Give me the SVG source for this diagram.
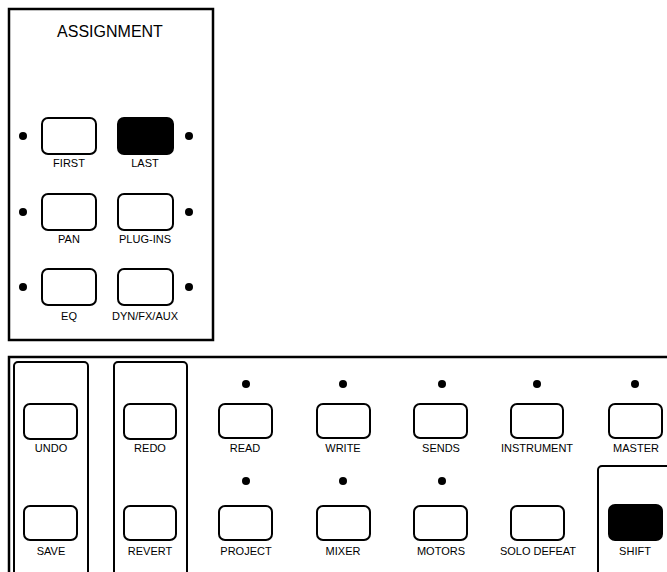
<svg xmlns="http://www.w3.org/2000/svg" width="667" height="572" viewBox="0 0 667 572">
<style>
.panel{fill:#fff;stroke:#000;stroke-width:2.5}
.grp{fill:none;stroke:#000;stroke-width:2}
.btn{fill:#fff;stroke:#000;stroke-width:2}
.btn.on{fill:#000}
.led{fill:#000}
text{font-family:"Liberation Sans",Arial,sans-serif;fill:#000;text-anchor:middle}
.lbl{font-size:11px}
.title{font-size:16px}
</style>
<rect width="667" height="572" fill="#fff"/>
<g id="assignment">
<rect class="panel" x="9" y="9" width="204" height="331"/>
<text class="title" x="110" y="37">ASSIGNMENT</text>
</g>
<g id="first"><circle class="led" cx="23" cy="136" r="4"/><rect class="btn" x="42" y="118" width="54" height="36" rx="6"/><text class="lbl" x="69" y="167">FIRST</text></g>
<g id="last"><circle class="led" cx="189" cy="136" r="4"/><rect class="btn on" x="118" y="118" width="55" height="36" rx="6"/><text class="lbl" x="145" y="167">LAST</text></g>
<g id="pan"><circle class="led" cx="23" cy="212" r="4"/><rect class="btn" x="42" y="194" width="54" height="36" rx="6"/><text class="lbl" x="69" y="243">PAN</text></g>
<g id="plugins"><circle class="led" cx="189" cy="212" r="4"/><rect class="btn" x="118" y="194" width="55" height="36" rx="6"/><text class="lbl" x="145" y="243">PLUG-INS</text></g>
<g id="eq"><circle class="led" cx="23" cy="287" r="4"/><rect class="btn" x="42" y="269" width="54" height="36" rx="6"/><text class="lbl" x="69" y="320">EQ</text></g>
<g id="dynfxaux"><circle class="led" cx="189" cy="287" r="4"/><rect class="btn" x="118" y="269" width="55" height="36" rx="6"/><text class="lbl" x="145" y="320">DYN/FX/AUX</text></g>

<g id="transport">
<rect class="panel" x="9" y="357" width="700" height="260"/>
<rect class="grp" x="14" y="362" width="74" height="240" rx="4"/>
<rect class="grp" x="114" y="362" width="73" height="240" rx="4"/>
<rect class="grp" x="598" y="466" width="100" height="140" rx="4"/>
</g>
<g id="undo"><rect class="btn" x="24" y="404" width="53" height="35" rx="6"/><text class="lbl" x="51" y="452">UNDO</text></g>
<g id="save"><rect class="btn" x="24" y="506" width="53" height="34" rx="6"/><text class="lbl" x="51" y="555">SAVE</text></g>
<g id="redo"><rect class="btn" x="124" y="404" width="52" height="35" rx="6"/><text class="lbl" x="150" y="452">REDO</text></g>
<g id="revert"><rect class="btn" x="124" y="506" width="52" height="34" rx="6"/><text class="lbl" x="150" y="555">REVERT</text></g>
<g id="read"><circle class="led" cx="246" cy="384" r="4"/><rect class="btn" x="219" y="404" width="53" height="34" rx="6"/><text class="lbl" x="245" y="452">READ</text></g>
<g id="write"><circle class="led" cx="343" cy="384" r="4"/><rect class="btn" x="317" y="404" width="53" height="34" rx="6"/><text class="lbl" x="343" y="452">WRITE</text></g>
<g id="sends"><circle class="led" cx="442" cy="384" r="4"/><rect class="btn" x="414" y="404" width="53" height="34" rx="6"/><text class="lbl" x="441" y="452">SENDS</text></g>
<g id="instrument"><circle class="led" cx="537" cy="384" r="4"/><rect class="btn" x="511" y="404" width="52" height="34" rx="6"/><text class="lbl" x="537" y="452">INSTRUMENT</text></g>
<g id="master"><circle class="led" cx="635" cy="384" r="4"/><rect class="btn" x="609" y="404" width="53" height="34" rx="6"/><text class="lbl" x="636" y="452">MASTER</text></g>
<g id="project"><circle class="led" cx="246" cy="481" r="4"/><rect class="btn" x="219" y="506" width="53" height="34" rx="6"/><text class="lbl" x="246" y="555">PROJECT</text></g>
<g id="mixer"><circle class="led" cx="343" cy="481" r="4"/><rect class="btn" x="317" y="506" width="53" height="34" rx="6"/><text class="lbl" x="343" y="555">MIXER</text></g>
<g id="motors"><circle class="led" cx="442" cy="481" r="4"/><rect class="btn" x="414" y="506" width="53" height="34" rx="6"/><text class="lbl" x="441" y="555">MOTORS</text></g>
<g id="solodefeat"><rect class="btn" x="511" y="506" width="53" height="34" rx="6"/><text class="lbl" x="538" y="555">SOLO DEFEAT</text></g>
<g id="shift"><rect class="btn on" x="609" y="505" width="53" height="35" rx="6"/><text class="lbl" x="635" y="555">SHIFT</text></g>
</svg>
